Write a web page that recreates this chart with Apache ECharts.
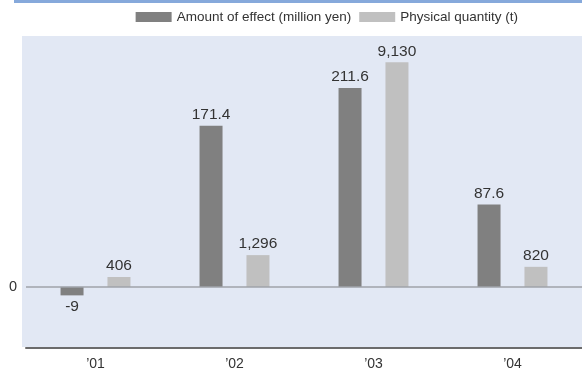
<!DOCTYPE html>
<html>
<head>
<meta charset="utf-8">
<script src="https://cdn.jsdelivr.net/npm/echarts@6/dist/echarts.min.js"></script>
<style>
  html, body { margin: 0; padding: 0; background: #ffffff; }
  #chart { width: 582px; height: 372px; }
</style>
</head>
<body>
<div id="chart"></div>
<script>
// Fiscal years on the category axis
const years = ['\u201901', '\u201902', '\u201903', '\u201904'];
// Amount of effect, million yen (left scale)
const effectAmount = [-9, 171.4, 211.6, 87.6];
// Physical quantity, tonnes (right scale)
const physicalQty = [406, 1296, 9130, 820];
// Only the zero line is labelled on the value axis
const yTickValues = [0];

const seriesNames = ['Amount of effect (million yen)', 'Physical quantity (t)'];
const FONT = '"Liberation Sans", Arial, Helvetica, sans-serif';

const chart = echarts.init(document.getElementById('chart'));

const labelStyle = {
  show: true,
  fontFamily: FONT,
  fontSize: 15.5,
  color: '#333333',
  distance: 3,
  formatter: p => p.value.toLocaleString('en-US')
};

chart.setOption({
  animation: false,
  textStyle: { fontFamily: FONT },
  graphic: [
    // blue rule across the top
    { type: 'rect', z: -10, shape: { x: 14, y: 0, width: 568, height: 3 }, style: { fill: '#86a9db' } },
    // pale plot panel
    { type: 'rect', z: -10, shape: { x: 22, y: 36, width: 560, height: 311 }, style: { fill: '#e2e8f4' } }
  ],
  legend: {
    top: 5,
    right: 59,
    itemWidth: 36,
    itemHeight: 10,
    itemGap: 8,
    icon: 'rect',
    textStyle: { fontFamily: FONT, fontSize: 13.5, color: '#333333' },
    data: seriesNames
  },
  grid: { left: 26, right: 0, top: 36, bottom: 24, containLabel: false },
  xAxis: {
    type: 'category',
    data: years,
    axisLine: { onZero: false, lineStyle: { color: '#6b6b6b', width: 2 } },
    axisTick: { show: false },
    axisLabel: { margin: 9, fontFamily: FONT, fontSize: 14, color: '#333333' }
  },
  yAxis: [
    {
      type: 'value',
      min: -65,
      max: 267,
      axisLine: { show: false },
      axisTick: { show: false },
      splitLine: { show: false },
      axisLabel: { customValues: yTickValues, margin: 9, fontFamily: FONT, fontSize: 14.5, color: '#333333' }
    },
    {
      type: 'value',
      min: -2479,
      max: 10200,
      show: false,
      splitLine: { show: false }
    }
  ],
  series: [
    {
      name: seriesNames[0],
      type: 'bar',
      yAxisIndex: 0,
      barWidth: 23,
      barGap: '104%',
      itemStyle: { color: '#808080' },
      label: Object.assign({}, labelStyle, { position: 'top' }),
      data: effectAmount.map(v => ({
        value: v,
        label: { position: v < 0 ? 'bottom' : 'top' }
      })),
      markLine: {
        silent: true,
        symbol: 'none',
        label: { show: false },
        lineStyle: { color: '#9fa3aa', width: 1.5, type: 'solid' },
        data: [{ yAxis: 0 }]
      }
    },
    {
      name: seriesNames[1],
      type: 'bar',
      yAxisIndex: 1,
      barWidth: 23,
      itemStyle: { color: '#c0c0c0' },
      label: Object.assign({}, labelStyle, { position: 'top' }),
      data: physicalQty
    }
  ]
});
</script>
</body>
</html>
